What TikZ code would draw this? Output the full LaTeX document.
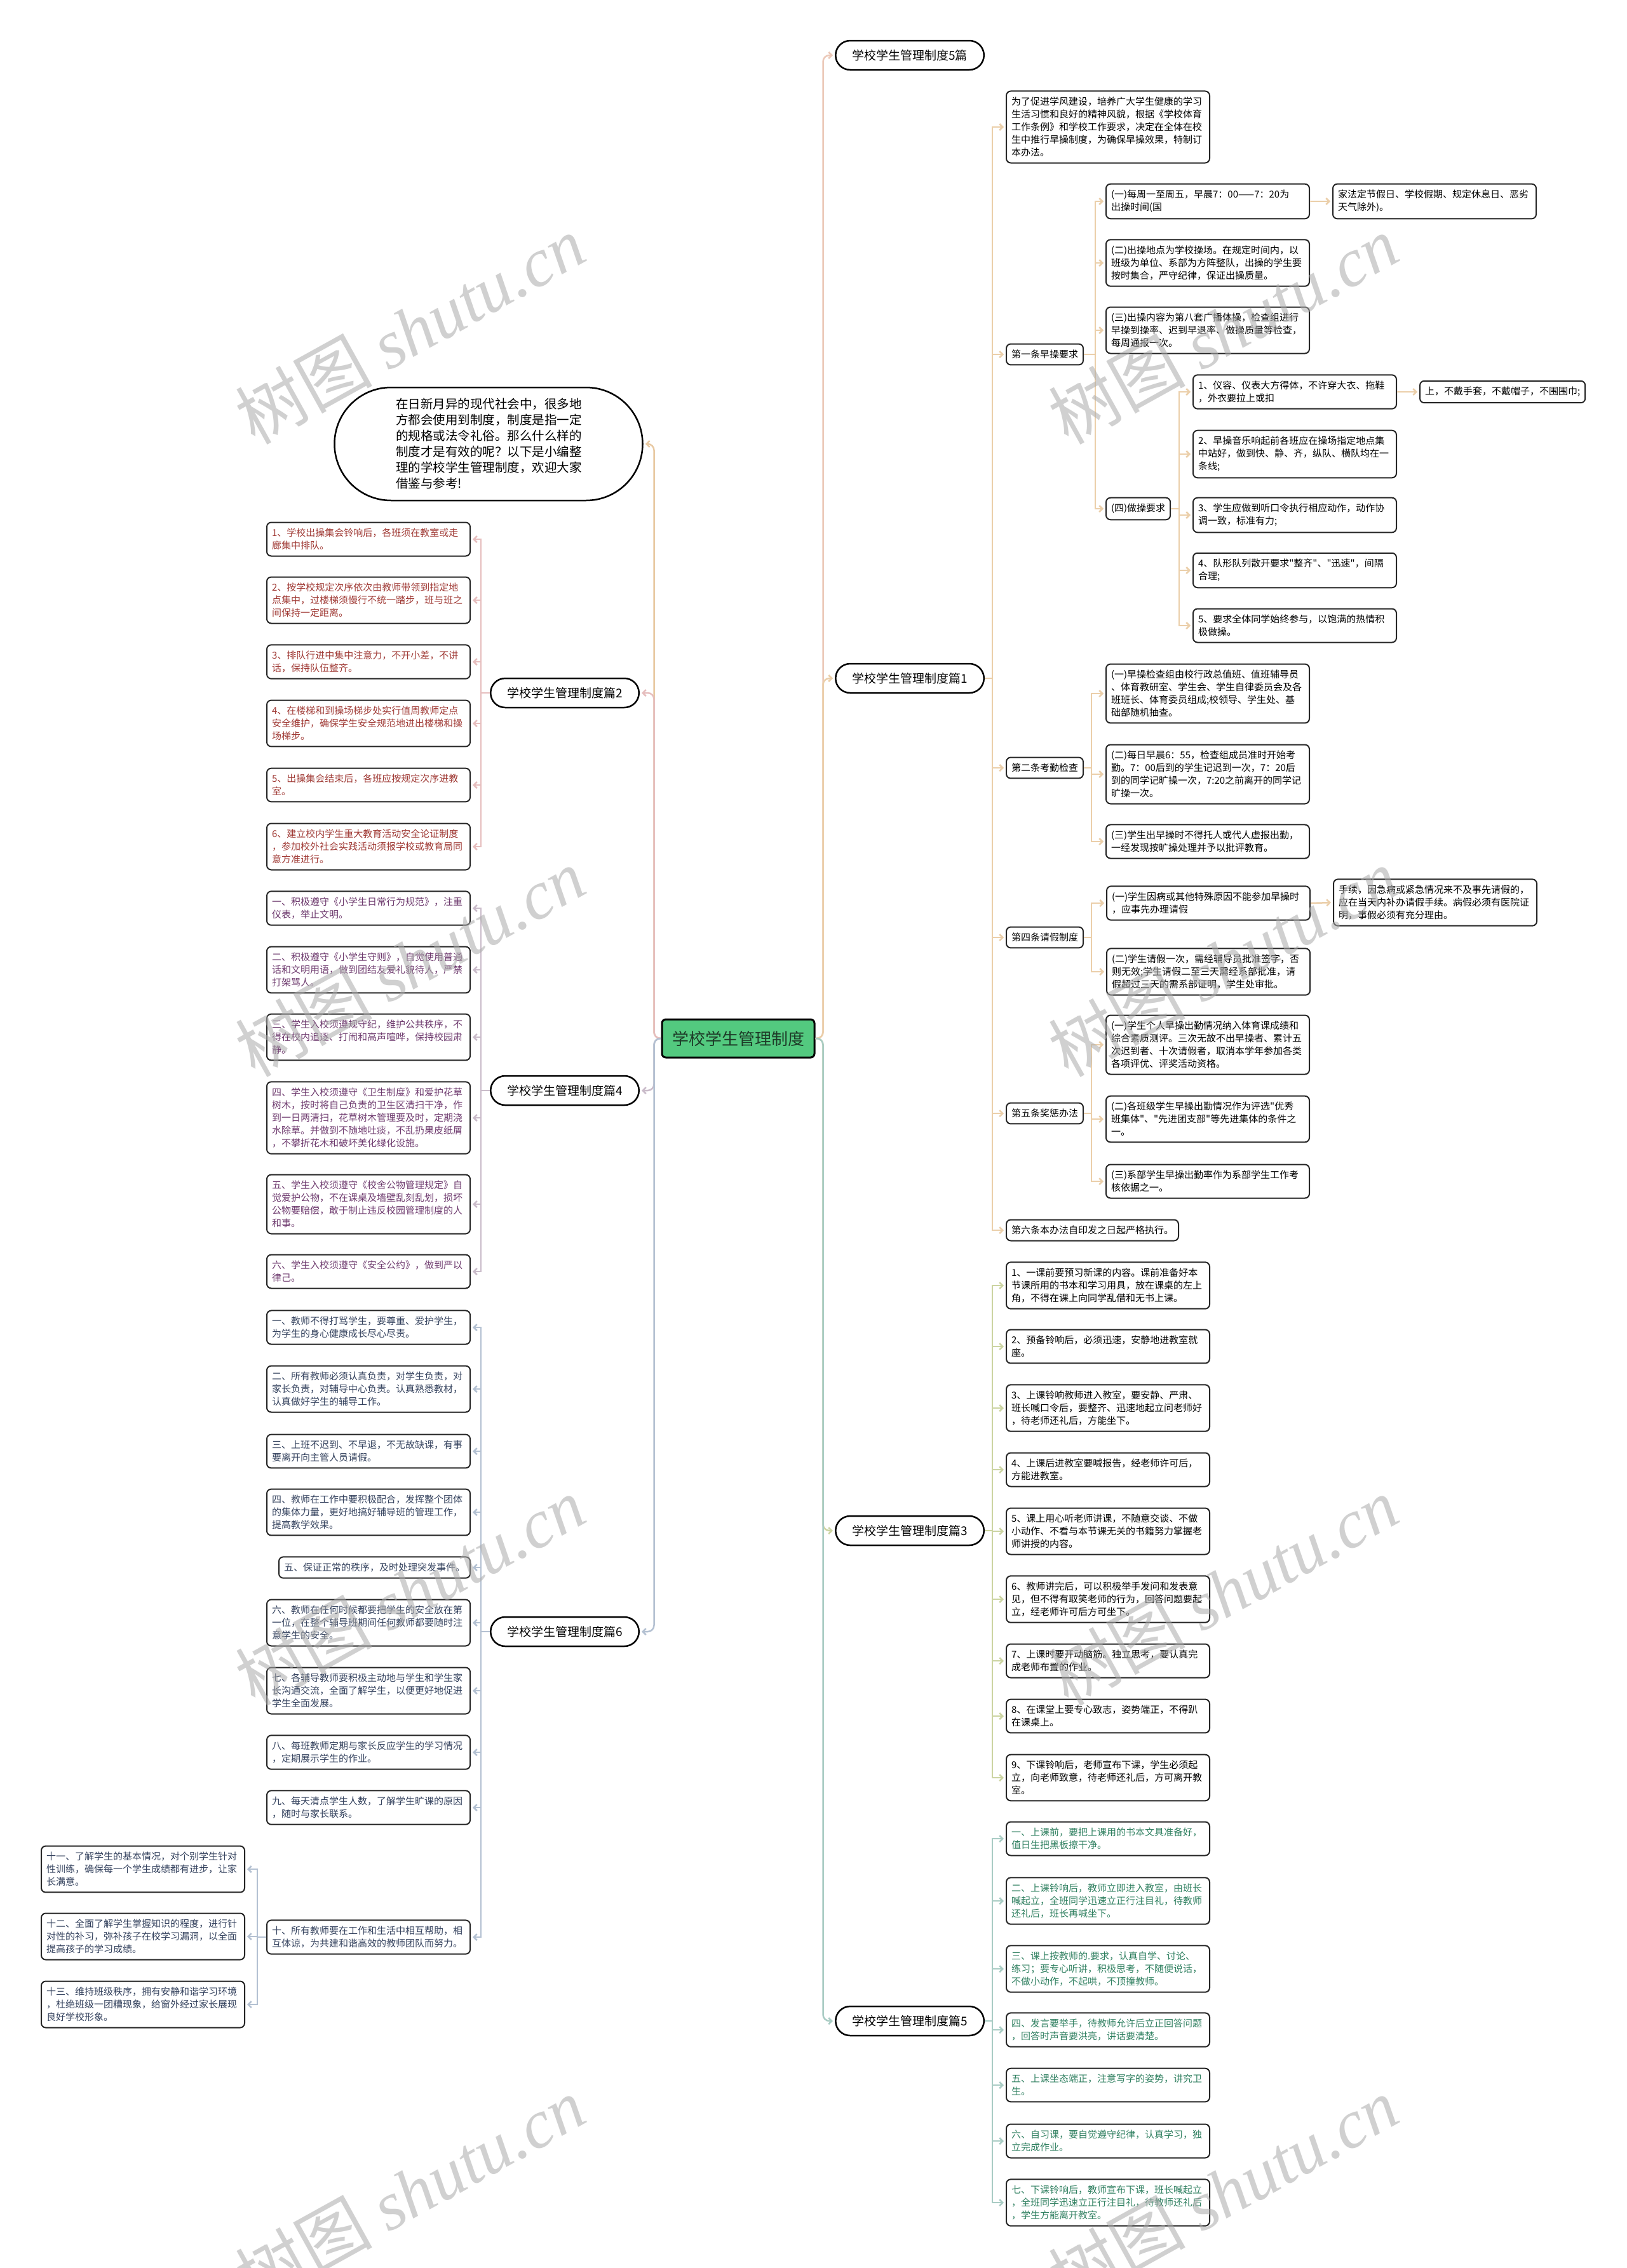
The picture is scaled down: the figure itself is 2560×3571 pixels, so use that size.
\documentclass[tikz,border=0pt]{standalone}
\usepackage{fontspec}
\setmainfont{Noto Sans CJK SC}[Ligatures=TeXOff]
\newfontfamily\wmlatin{Liberation Serif}
\usetikzlibrary{arrows.meta}
\definecolor{rootgreen}{HTML}{53C97F}
\definecolor{roottext}{HTML}{1E3B28}
\definecolor{cA}{HTML}{EBCFAA}
\definecolor{cB}{HTML}{CCD4A2}
\definecolor{cC}{HTML}{A9CCC4}
\definecolor{cD}{HTML}{E6BEBE}
\definecolor{cE}{HTML}{CABCCA}
\definecolor{cF}{HTML}{B4C1D2}
\definecolor{cG}{HTML}{ECC9B9}
\definecolor{cH}{HTML}{E8C9A2}
\definecolor{tD}{HTML}{A03A35}
\definecolor{tE}{HTML}{6E3A6E}
\definecolor{tF}{HTML}{34425E}
\definecolor{tC}{HTML}{2F8060}
\tikzset{
  box/.style={draw=black!85, line width=2pt, rounded corners=7pt, fill=white, inner xsep=8pt, inner ysep=9.5pt, font=\fontsize{15}{20}\selectfont, align=left},
  wbox/.style={box, text width=304pt},
  mainnode/.style={draw=black, line width=2.5pt, rounded corners=23pt, fill=white, minimum height=46pt, inner xsep=26pt, font=\fontsize{19}{23}\selectfont},
  conn/.style={line width=2.5pt, -{Straight Barb[length=5pt,width=10pt]}, shorten >=3pt},
  rl/.style={line width=2.5pt, rounded corners=10pt, -{Straight Barb[length=5pt,width=10pt]}, shorten >=3pt},
  wm/.style={rotate=29, text=black!33, opacity=0.55, font=\fontsize{108}{108}\selectfont},
}
\begin{document}
\begin{tikzpicture}[x=1pt,y=-1pt]
\useasboundingbox (0,0) rectangle (2560,3571);
\fill[white] (0,0) rectangle (2560,3571);

% root
\node[draw=black, line width=3pt, fill=rootgreen, text=roottext, rounded corners=6pt, minimum height=60pt, inner xsep=16pt, font=\fontsize{26}{30}\selectfont] (root) at (1162,1635) {学校学生管理制度};

% main nodes right
\node[mainnode, anchor=west] (t5) at (1314,87) {学校学生管理制度5篇};
\node[mainnode, anchor=west] (t1) at (1314,1068) {学校学生管理制度篇1};
\node[mainnode, anchor=west] (t3) at (1314,2410) {学校学生管理制度篇3};
\node[mainnode, anchor=west] (t5b) at (1314,3182) {学校学生管理制度篇5};
% main nodes left
\node[draw=black, line width=2.5pt, rounded corners=89pt, fill=white, minimum width=485pt, minimum height=178pt, text width=292pt, align=left, font=\fontsize{19.5}{25}\selectfont] (intro) at (769,699) {在日新月异的现代社会中，很多地\\方都会使用到制度，制度是指一定\\的规格或法令礼俗。那么什么样的\\制度才是有效的呢？以下是小编整\\理的学校学生管理制度，欢迎大家\\借鉴与参考!};
\node[mainnode, anchor=east] (l2) at (1007,1091) {学校学生管理制度篇2};
\node[mainnode, anchor=east] (l4) at (1007,1717) {学校学生管理制度篇4};
\node[mainnode, anchor=east] (l6) at (1007,2569) {学校学生管理制度篇6};

% root connectors
\draw[rl, cG] (root.east) -- ++(12,0) |- (t5.west);
\draw[rl, cA] (root.east) -- ++(12,0) |- (t1.west);
\draw[rl, cB] (root.east) -- ++(12,0) |- (t3.west);
\draw[rl, cC] (root.east) -- ++(12,0) |- (t5b.west);
\draw[rl, cH] (root.west) -- ++(-11,0) |- (intro.east);
\draw[rl, cD] (root.west) -- ++(-11,0) |- (l2.east);
\draw[rl, cE] (root.west) -- ++(-11,0) |- (l4.east);
\draw[rl, cF] (root.west) -- ++(-11,0) |- (l6.east);

% ===== 篇1 =====
\node[wbox, anchor=west] (p1i) at (1583,200) {为了促进学风建设，培养广大学生健康的学习\\生活习惯和良好的精神风貌，根据《学校体育\\工作条例》和学校工作要求，决定在全体在校\\生中推行早操制度，为确保早操效果，特制订\\本办法。};
\node[box, anchor=west] (p1a) at (1583,558) {第一条早操要求};
\node[box, anchor=west] (p1b) at (1583,1209) {第二条考勤检查};
\node[box, anchor=west] (p1c) at (1583,1476) {第四条请假制度};
\node[box, anchor=west] (p1d) at (1583,1753) {第五条奖惩办法};
\node[box, anchor=west] (p1e) at (1583,1937) {第六条本办法自印发之日起严格执行。};
\foreach \n in {p1i,p1a,p1b,p1c,p1d,p1e}
  \draw[conn, cA] (t1.east) -- ++(12,0) |- (\n.west);

% 第一条
\node[wbox, anchor=west] (a1) at (1740,317) {(一)每周一至周五，早晨7：00——7：20为\\出操时间(国};
\node[wbox, anchor=west] (a1x) at (2097,317) {家法定节假日、学校假期、规定休息日、恶劣\\天气除外)。};
\node[wbox, anchor=west] (a2) at (1740,414) {(二)出操地点为学校操场。在规定时间内，以\\班级为单位、系部为方阵整队，出操的学生要\\按时集合，严守纪律，保证出操质量。};
\node[wbox, anchor=west] (a3) at (1740,520) {(三)出操内容为第八套广播体操，检查组进行\\早操到操率、迟到早退率、做操质量等检查，\\每周通报一次。};
\node[box, anchor=west] (a4) at (1740,801) {(四)做操要求};
\foreach \n in {a1,a2,a3,a4}
  \draw[conn, cA] (p1a.east) -- ++(18,0) |- (\n.west);
\draw[conn, cA] (a1.east) -- (a1x.west);

\node[wbox, anchor=west] (b1) at (1877,617) {1、仪容、仪表大方得体，不许穿大衣、拖鞋\\，外衣要拉上或扣};
\node[box, anchor=west] (b1x) at (2234,617) {上，不戴手套，不戴帽子，不围围巾;};
\node[wbox, anchor=west] (b2) at (1877,715) {2、早操音乐响起前各班应在操场指定地点集\\中站好，做到快、静、齐，纵队、横队均在一\\条线;};
\node[wbox, anchor=west] (b3) at (1877,811) {3、学生应做到听口令执行相应动作，动作协\\调一致，标准有力;};
\node[wbox, anchor=west] (b4) at (1877,898) {4、队形队列散开要求"整齐"、"迅速"，间隔\\合理;};
\node[wbox, anchor=west] (b5) at (1877,985) {5、要求全体同学始终参与，以饱满的热情积\\极做操。};
\foreach \n in {b1,b2,b3,b4,b5}
  \draw[conn, cA] (a4.east) -- ++(13,0) |- (\n.west);
\draw[conn, cA] (b1.east) -- (b1x.west);

% 第二条
\node[wbox, anchor=west] (c1) at (1740,1092) {(一)早操检查组由校行政总值班、值班辅导员\\、体育教研室、学生会、学生自律委员会及各\\班班长、体育委员组成;校领导、学生处、基\\础部随机抽查。};
\node[wbox, anchor=west] (c2) at (1740,1219) {(二)每日早晨6：55，检查组成员准时开始考\\勤。7：00后到的学生记迟到一次，7：20后\\到的同学记旷操一次，7:20之前离开的同学记\\旷操一次。};
\node[wbox, anchor=west] (c3) at (1740,1325) {(三)学生出早操时不得托人或代人虚报出勤，\\一经发现按旷操处理并予以批评教育。};
\foreach \n in {c1,c2,c3}
  \draw[conn, cA] (p1b.east) -- ++(12,0) |- (\n.west);

% 第四条
\node[wbox, anchor=west] (d1) at (1741,1422) {(一)学生因病或其他特殊原因不能参加早操时\\，应事先办理请假};
\node[wbox, anchor=west] (d1x) at (2098,1421) {手续，因急病或紧急情况来不及事先请假的，\\应在当天内补办请假手续。病假必须有医院证\\明，事假必须有充分理由。};
\node[wbox, anchor=west] (d2) at (1741,1530) {(二)学生请假一次，需经辅导员批准签字，否\\则无效;学生请假二至三天需经系部批准，请\\假超过三天的需系部证明，学生处审批。};
\foreach \n in {d1,d2}
  \draw[conn, cA] (p1c.east) -- ++(12,0) |- (\n.west);
\draw[conn, cA] (d1.east) -- (d1x.west);

% 第五条
\node[wbox, anchor=west] (e1) at (1740,1645) {(一)学生个人早操出勤情况纳入体育课成绩和\\综合素质测评。三次无故不出早操者、累计五\\次迟到者、十次请假者，取消本学年参加各类\\各项评优、评奖活动资格。};
\node[wbox, anchor=west] (e2) at (1740,1762) {(二)各班级学生早操出勤情况作为评选"优秀\\班集体"、"先进团支部"等先进集体的条件之\\一。};
\node[wbox, anchor=west] (e3) at (1740,1860) {(三)系部学生早操出勤率作为系部学生工作考\\核依据之一。};
\foreach \n in {e1,e2,e3}
  \draw[conn, cA] (p1d.east) -- ++(12,0) |- (\n.west);

% ===== 篇3 =====
\node[wbox, anchor=west] (g1) at (1583,2024) {1、一课前要预习新课的内容。课前准备好本\\节课所用的书本和学习用具，放在课桌的左上\\角，不得在课上向同学乱借和无书上课。};
\node[wbox, anchor=west] (g2) at (1583,2120) {2、预备铃响后，必须迅速，安静地进教室就\\座。};
\node[wbox, anchor=west] (g3) at (1583,2217) {3、上课铃响教师进入教室，要安静、严肃、\\班长喊口令后，要整齐、迅速地起立问老师好\\，待老师还礼后，方能坐下。};
\node[wbox, anchor=west] (g4) at (1583,2314) {4、上课后进教室要喊报告，经老师许可后，\\方能进教室。};
\node[wbox, anchor=west] (g5) at (1583,2411) {5、课上用心听老师讲课，不随意交谈、不做\\小动作、不看与本节课无关的书籍努力掌握老\\师讲授的内容。};
\node[wbox, anchor=west] (g6) at (1583,2518) {6、教师讲完后，可以积极举手发问和发表意\\见，但不得有取笑老师的行为，回答问题要起\\立，经老师许可后方可坐下。};
\node[wbox, anchor=west] (g7) at (1583,2615) {7、上课时要开动脑筋。独立思考，要认真完\\成老师布置的作业。};
\node[wbox, anchor=west] (g8) at (1583,2702) {8、在课堂上要专心致志，姿势端正，不得趴\\在课桌上。};
\node[wbox, anchor=west] (g9) at (1583,2799) {9、下课铃响后，老师宣布下课，学生必须起\\立，向老师致意，待老师还礼后，方可离开教\\室。};
\foreach \n in {g1,g2,g3,g4,g5,g6,g7,g8,g9}
  \draw[conn, cB] (t3.east) -- ++(12,0) |- (\n.west);

% ===== 篇5 (b) =====
\node[wbox, anchor=west, text=tC] (h1) at (1583,2895) {一、上课前，要把上课用的书本文具准备好，\\值日生把黑板擦干净。};
\node[wbox, anchor=west, text=tC] (h2) at (1583,2993) {二、上课铃响后，教师立即进入教室，由班长\\喊起立，全班同学迅速立正行注目礼，待教师\\还礼后，班长再喊坐下。};
\node[wbox, anchor=west, text=tC] (h3) at (1583,3100) {三、课上按教师的.要求，认真自学、讨论、\\练习；要专心听讲，积极思考，不随便说话，\\不做小动作，不起哄，不顶撞教师。};
\node[wbox, anchor=west, text=tC] (h4) at (1583,3196) {四、发言要举手，待教师允许后立正回答问题\\，回答时声音要洪亮，讲话要清楚。};
\node[wbox, anchor=west, text=tC] (h5) at (1583,3283) {五、上课坐态端正，注意写字的姿势，讲究卫\\生。};
\node[wbox, anchor=west, text=tC] (h6) at (1583,3371) {六、自习课，要自觉遵守纪律，认真学习，独\\立完成作业。};
\node[wbox, anchor=west, text=tC] (h7) at (1583,3468) {七、下课铃响后，教师宣布下课，班长喊起立\\，全班同学迅速立正行注目礼，待教师还礼后\\，学生方能离开教室。};
\foreach \n in {h1,h2,h3,h4,h5,h6,h7}
  \draw[conn, cC] (t5b.east) -- ++(12,0) |- (\n.west);

% ===== 篇2 =====
\node[wbox, anchor=east, text=tD] (k1) at (741,849) {1、学校出操集会铃响后，各班须在教室或走\\廊集中排队。};
\node[wbox, anchor=east, text=tD] (k2) at (741,945) {2、按学校规定次序依次由教师带领到指定地\\点集中，过楼梯须慢行不统一踏步，班与班之\\间保持一定距离。};
\node[wbox, anchor=east, text=tD] (k3) at (741,1042) {3、排队行进中集中注意力，不开小差，不讲\\话，保持队伍整齐。};
\node[wbox, anchor=east, text=tD] (k4) at (741,1139) {4、在楼梯和到操场梯步处实行值周教师定点\\安全维护，确保学生安全规范地进出楼梯和操\\场梯步。};
\node[wbox, anchor=east, text=tD] (k5) at (741,1236) {5、出操集会结束后，各班应按规定次序进教\\室。};
\node[wbox, anchor=east, text=tD] (k6) at (741,1333) {6、建立校内学生重大教育活动安全论证制度\\，参加校外社会实践活动须报学校或教育局同\\意方准进行。};
\foreach \n in {k1,k2,k3,k4,k5,k6}
  \draw[conn, cD] (l2.west) -- ++(-14,0) |- (\n.east);

% ===== 篇4 =====
\node[wbox, anchor=east, text=tE] (m1) at (741,1430) {一、积极遵守《小学生日常行为规范》，注重\\仪表，举止文明。};
\node[wbox, anchor=east, text=tE] (m2) at (741,1527) {二、积极遵守《小学生守则》，自觉使用普通\\话和文明用语，做到团结友爱礼貌待人，严禁\\打架骂人。};
\node[wbox, anchor=east, text=tE] (m3) at (741,1633) {三、学生入校须遵规守纪，维护公共秩序，不\\得在校内追逐、打闹和高声喧哗，保持校园肃\\静。};
\node[wbox, anchor=east, text=tE] (m4) at (741,1760) {四、学生入校须遵守《卫生制度》和爱护花草\\树木，按时将自己负责的卫生区清扫干净，作\\到一日两清扫，花草树木管理要及时，定期浇\\水除草。并做到不随地吐痰，不乱扔果皮纸屑\\，不攀折花木和破坏美化绿化设施。};
\node[wbox, anchor=east, text=tE] (m5) at (741,1896) {五、学生入校须遵守《校舍公物管理规定》自\\觉爱护公物，不在课桌及墙壁乱刻乱划，损坏\\公物要赔偿，敢于制止违反校园管理制度的人\\和事。};
\node[wbox, anchor=east, text=tE] (m6) at (741,2002) {六、学生入校须遵守《安全公约》，做到严以\\律己。};
\foreach \n in {m1,m2,m3,m4,m5,m6}
  \draw[conn, cE] (l4.west) -- ++(-14,0) |- (\n.east);

% ===== 篇6 =====
\node[wbox, anchor=east, text=tF] (n1) at (741,2090) {一、教师不得打骂学生，要尊重、爱护学生，\\为学生的身心健康成长尽心尽责。};
\node[wbox, anchor=east, text=tF] (n2) at (741,2187) {二、所有教师必须认真负责，对学生负责，对\\家长负责，对辅导中心负责。认真熟悉教材，\\认真做好学生的辅导工作。};
\node[wbox, anchor=east, text=tF] (n3) at (741,2285) {三、上班不迟到、不早退，不无故缺课，有事\\要离开向主管人员请假。};
\node[wbox, anchor=east, text=tF] (n4) at (741,2381) {四、教师在工作中要积极配合，发挥整个团体\\的集体力量，更好地搞好辅导班的管理工作，\\提高教学效果。};
\node[box, anchor=east, text=tF] (n5) at (741,2468) {五、保证正常的秩序，及时处理突发事件。};
\node[wbox, anchor=east, text=tF] (n6) at (741,2555) {六、教师在任何时候都要把学生的安全放在第\\一位，在整个辅导班期间任何教师都要随时注\\意学生的安全。};
\node[wbox, anchor=east, text=tF] (n7) at (741,2662) {七、各辅导教师要积极主动地与学生和学生家\\长沟通交流，全面了解学生，以便更好地促进\\学生全面发展。};
\node[wbox, anchor=east, text=tF] (n8) at (741,2759) {八、每班教师定期与家长反应学生的学习情况\\，定期展示学生的作业。};
\node[wbox, anchor=east, text=tF] (n9) at (741,2846) {九、每天清点学生人数，了解学生旷课的原因\\，随时与家长联系。};
\node[wbox, anchor=east, text=tF] (n10) at (741,3050) {十、所有教师要在工作和生活中相互帮助，相\\互体谅，为共建和谐高效的教师团队而努力。};
\foreach \n in {n1,n2,n3,n4,n5,n6,n7,n8,n9,n10}
  \draw[conn, cF] (l6.west) -- ++(-14,0) |- (\n.east);
\node[wbox, anchor=east, text=tF] (n11) at (386,2943) {十一、了解学生的基本情况，对个别学生针对\\性训练，确保每一个学生成绩都有进步，让家\\长满意。};
\node[wbox, anchor=east, text=tF] (n12) at (386,3049) {十二、全面了解学生掌握知识的程度，进行针\\对性的补习，弥补孩子在校学习漏洞，以全面\\提高孩子的学习成绩。};
\node[wbox, anchor=east, text=tF] (n13) at (386,3156) {十三、维持班级秩序，拥有安静和谐学习环境\\，杜绝班级一团糟现象，给窗外经过家长展现\\良好学校形象。};
\foreach \n in {n11,n12,n13}
  \draw[conn, cF] (n10.west) -- ++(-14,0) |- (\n.east);

% watermarks
\foreach \i/\x/\y in {1/645/519, 2/1925/519, 3/645/1515, 4/1925/1515, 5/645/2505, 6/1925/2505, 7/645/3450, 8/1925/3450}
  \node[wm] (wm\i) at (\x,\y) {树图\ {\wmlatin\itshape shutu.cn}};
\end{tikzpicture}
\end{document}
